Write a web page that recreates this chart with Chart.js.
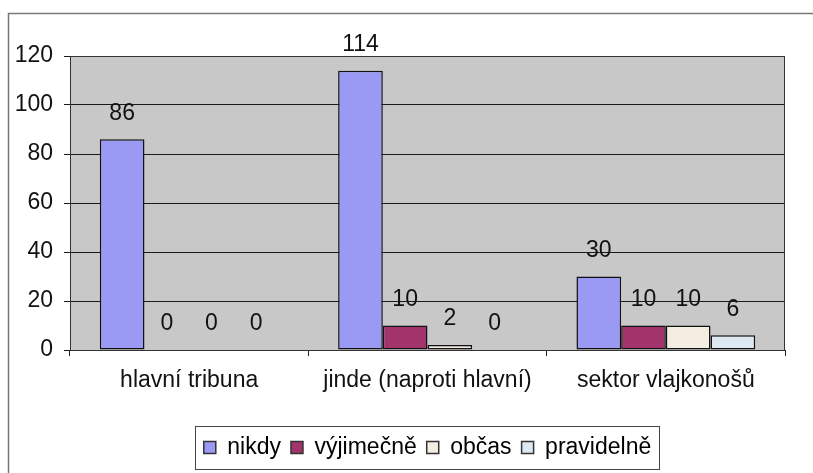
<!DOCTYPE html>
<html>
<head>
<meta charset="utf-8">
<script src="https://cdn.jsdelivr.net/npm/chart.js@4.4.0/dist/chart.umd.min.js"></script>
<style>
  html, body { margin: 0; padding: 0; background: #fff; }
  canvas { display: block; }
</style>
</head>
<body>
<canvas id="chart" width="813" height="473"></canvas>
<script>
// Data
const categories = ["hlavní tribuna", "jinde (naproti hlavní)", "sektor vlajkonošů"];
const seriesNames = ["nikdy", "výjimečně", "občas", "pravidelně"];
const nikdy = [86, 114, 30];
const vyjimecne = [0, 10, 10];
const obcas = [0, 2, 10];
const pravidelne = [0, 0, 6];
const yTicks = [0, 20, 40, 60, 80, 100, 120];

const colors = ["#9a9af5", "#a3336b", "#f3ede2", "#dde9f2"];
const fontFamily = "'Liberation Sans', Arial, sans-serif";
const fontSize = 23;
const textColor = "#111";

Chart.defaults.font.family = fontFamily;
Chart.defaults.color = textColor;

// grey plot area + frame + outer page border
const plotBackground = {
  id: "plotBackground",
  beforeDraw(chart) {
    const { ctx, chartArea: a } = chart;
    ctx.save();
    ctx.fillStyle = "#c8c8c8";
    ctx.fillRect(a.left, a.top, a.right - a.left, a.bottom - a.top);
    // outer frame of the whole chart
    ctx.strokeStyle = "#777";
    ctx.lineWidth = 1.5;
    ctx.beginPath();
    ctx.moveTo(8.5, 473);
    ctx.lineTo(8.5, 13.5);
    ctx.lineTo(813, 13.5);
    ctx.stroke();
    ctx.restore();
  },
  beforeDatasetsDraw(chart) {
    const { ctx, chartArea: a } = chart;
    ctx.save();
    ctx.strokeStyle = "#333";
    ctx.lineWidth = 1;
    ctx.strokeRect(a.left + 0.5, a.top + 0.5, a.right - a.left - 1, a.bottom - a.top);
    ctx.restore();
  }
};

// value labels above the bars
const valueLabels = {
  id: "valueLabels",
  afterDatasetsDraw(chart) {
    const { ctx } = chart;
    ctx.save();
    ctx.font = fontSize + "px " + fontFamily;
    ctx.fillStyle = textColor;
    ctx.textAlign = "center";
    ctx.textBaseline = "middle";
    chart.data.datasets.forEach((ds, i) => {
      chart.getDatasetMeta(i).data.forEach((bar, j) => {
        ctx.fillText(String(ds.data[j]), bar.x, bar.y - 26);
      });
    });
    ctx.restore();
  }
};

// box round the legend
const legendBox = {
  id: "legendBox",
  afterDraw(chart) {
    const lg = chart.legend;
    if (!lg || !lg.legendHitBoxes.length) return;
    const boxes = lg.legendHitBoxes;
    const left = Math.min(...boxes.map(b => b.left)) - 9;
    const right = Math.max(...boxes.map(b => b.left + b.width)) + 8;
    const { ctx } = chart;
    ctx.save();
    ctx.strokeStyle = "#444";
    ctx.lineWidth = 1;
    ctx.strokeRect(Math.round(left) + 0.5, Math.round(lg.top) + 0.5, Math.round(right - left), Math.round(lg.bottom - lg.top));
    ctx.restore();
  }
};

new Chart(document.getElementById("chart"), {
  type: "bar",
  data: {
    labels: categories,
    datasets: [nikdy, vyjimecne, obcas, pravidelne].map((vals, i) => ({
      label: seriesNames[i],
      data: vals,
      backgroundColor: colors[i],
      borderColor: "#111",
      borderWidth: 1.5,
      borderSkipped: false,
      categoryPercentage: 0.75,
      barPercentage: 1.0
    }))
  },
  options: {
    responsive: false,
    animation: false,
    layout: { padding: { top: 56, right: 28, bottom: 4, left: 0 } },
    plugins: {
      tooltip: { enabled: false },
      legend: {
        position: "bottom",
        fullSize: false,
        labels: {
          boxWidth: 12,
          boxHeight: 12,
          padding: 10,
          color: textColor,
          font: { size: fontSize },
          generateLabels(chart) {
            return chart.data.datasets.map((ds, i) => ({
              text: ds.label,
              fillStyle: ds.backgroundColor,
              strokeStyle: "#333",
              lineWidth: 1.5,
              datasetIndex: i
            }));
          }
        }
      }
    },
    scales: {
      x: {
        offset: true,
        grid: { offset: true, drawOnChartArea: false, color: "#222", tickLength: 6 },
        border: { display: true, color: "#222" },
        ticks: { font: { size: fontSize }, color: textColor, padding: 11, maxRotation: 0 },
        afterFit(s) { s.height = 76; }
      },
      y: {
        min: 0,
        max: 120,
        afterBuildTicks(s) { s.ticks = yTicks.map(v => ({ value: v })); },
        grid: { color: "#1a1a1a", tickLength: 6 },
        border: { display: true, color: "#222" },
        ticks: { font: { size: fontSize }, color: textColor, padding: 11 },
        afterFit(s) { s.width = 70; }
      }
    }
  },
  plugins: [plotBackground, valueLabels, legendBox]
});
</script>
</body>
</html>
